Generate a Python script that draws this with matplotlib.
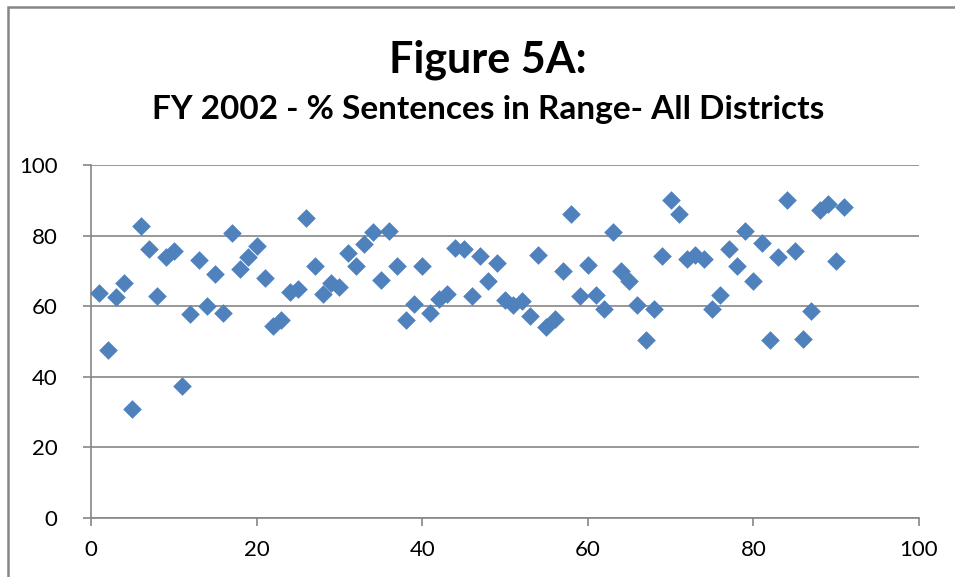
import matplotlib
matplotlib.use('Agg')
import matplotlib.pyplot as plt
from matplotlib.patches import Rectangle

# styles
matplotlib.rcParams['font.family'] = ['Lato', 'DejaVu Sans']
grid_color = '#868686'
marker_color = '#4F81BD'

# data: district index vs % sentences in range
district = list(range(1, 92))
pct_in_range = [
    63.7, 47.7, 62.5, 66.7, 31.0, 82.7, 76.3, 63.0, 74.0, 75.5,
    37.5, 57.8, 73.2, 60.0, 69.0, 58.2, 80.8, 70.5, 73.8, 77.0,
    68.0, 54.5, 56.0, 64.0, 65.0, 85.0, 71.5, 63.5, 66.5, 65.3,
    75.0, 71.3, 77.5, 81.0, 67.5, 81.3, 71.3, 56.0, 60.5, 71.3,
    58.0, 62.0, 63.5, 76.5, 76.3, 62.8, 74.2, 67.2, 72.2, 61.8,
    60.3, 61.5, 57.2, 74.5, 54.0, 56.5, 70.0, 86.0, 62.8, 71.8,
    63.2, 59.3, 81.0, 70.0, 67.0, 60.3, 50.3, 59.3, 74.3, 90.0,
    86.0, 73.3, 74.5, 73.3, 59.3, 63.3, 76.3, 71.3, 81.2, 67.2,
    77.8, 50.3, 73.8, 90.0, 75.5, 50.7, 58.5, 87.3, 89.0, 72.8,
    88.0,
]
x_ticks = [0, 20, 40, 60, 80, 100]
y_ticks = [0, 20, 40, 60, 80, 100]
title = 'Figure 5A:'
subtitle = 'FY 2002 - % Sentences in Range- All Districts'

fig = plt.figure(figsize=(9.55, 5.77), dpi=100)
# chart border (cut off at right and bottom as in the original)
fig.patches.append(Rectangle((8 / 955, -0.1), 1.2, 1 - 7 / 577 + 0.1, transform=fig.transFigure,
                             fill=False, edgecolor=grid_color, linewidth=1.8))

ax = fig.add_axes([91 / 955, 1 - 518 / 577, (919 - 91) / 955, (518 - 165) / 577])
ax.scatter(district, pct_in_range, marker='D', s=9.5 ** 2, color=marker_color, linewidths=0, zorder=3,
           clip_on=False)

ax.set_xlim(0, 100)
ax.set_ylim(0, 100)
ax.set_xticks(x_ticks)
ax.set_yticks(y_ticks)
ax.yaxis.grid(True, color=grid_color, linewidth=1.2)
ax.set_axisbelow(True)
for side in ['top', 'right']:
    ax.spines[side].set_visible(False)
for side in ['left', 'bottom']:
    ax.spines[side].set_color(grid_color)
    ax.spines[side].set_linewidth(1.2)
ax.tick_params(axis='both', colors=grid_color, labelcolor='black', labelsize=16, length=6, width=1.2)
ax.tick_params(axis='x', pad=10)
ax.tick_params(axis='y', pad=18)

# titles are centred over the chart box, a little right of the figure centre
fig.text(488 / 955, 1 - 60 / 577, title, ha='center', va='center', fontsize=31, fontweight='bold')
fig.text(488 / 955, 1 - 110 / 577, subtitle, ha='center', va='center', fontsize=24, fontweight='bold')

fig.savefig('out.png', dpi=100)
